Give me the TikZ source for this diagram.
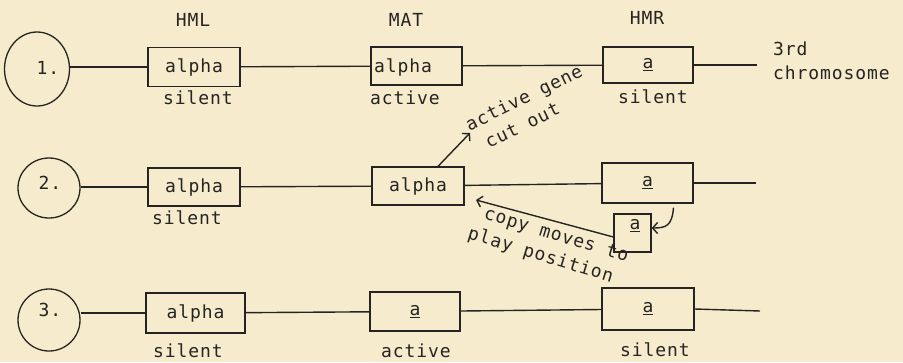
\documentclass[tikz,border=0pt]{standalone}
\usepackage{fontspec}
\setmonofont[LetterSpace=5]{DejaVu Sans Mono}
\usetikzlibrary{arrows.meta,shapes.geometric}
\definecolor{paper}{HTML}{F6ECCD}
\definecolor{ink}{HTML}{262422}
\begin{document}
\begin{tikzpicture}[x=1pt,y=-1pt,
  every node/.style={text=ink, font=\ttfamily\fontsize{18}{24}\selectfont},
  gene/.style={draw=ink, line width=1.3pt, rectangle, inner sep=0pt,
    minimum width=92pt, minimum height=39pt},
  ring/.style={draw=ink, line width=1.3pt, ellipse, inner sep=0pt,
    minimum width=62pt, minimum height=60pt},
  txt/.style={inner sep=0pt},
  note/.style={inner sep=0pt, align=left},
  wire/.style={draw=ink, line width=1.4pt},
  barb/.style={wire, -{Straight Barb[length=5pt,width=11pt]}}
]
\fill[paper] (0,0) rectangle (903,362);
\useasboundingbox (0,0) rectangle (903,362);

% column headings
\node[txt] (hmlh) at (193,20) {HML};
\node[txt] (math) at (406,20) {MAT};
\node[txt] (hmrh) at (647,18) {HMR};

% ---- stage 1 ----
\node[ring, minimum width=65pt, minimum height=74pt] (c1) at (37,69) {};
\node[txt] (n1) at (48,68) {1.};
\node[gene] (hml1) at (194,67) {alpha};
\node[gene, minimum width=91pt, minimum height=38pt] (mat1) at (416.5,66) {};
\node[txt] (mat1t) at (403,67) {alpha};
\node[gene, minimum width=90pt, minimum height=36pt] (hmr1) at (648,65) {\underline{a}};
\node[txt] (s1) at (198,98) {silent};
\node[txt] (a1) at (405,98) {active};
\node[txt] (s1r) at (653,97) {silent};
\node[txt, anchor=base west] (chr3) at (773,55) {3rd};
\node[txt, anchor=base west] (chrn) at (773,79) {chromosome};
\coordinate (t1) at (757,65);
\draw[wire] (c1.east |- hml1.west) -- (hml1.west);
\draw[wire] (hml1) -- (mat1);
\draw[wire] (mat1) -- (hmr1);
\draw[wire] (hmr1.east) -- (t1);

% ---- stage 2 ----
\node[ring] (c2) at (49,188) {};
\node[txt] (n2) at (50,183) {2.};
\node[gene, minimum height=38pt] (hml2) at (194,187) {alpha};
\node[txt] (s2) at (187,218) {silent};
\node[gene, minimum height=38pt] (mat2) at (418,186) {alpha};
\node[gene, minimum width=91pt, minimum height=40pt] (hmr2) at (647.5,183) {\underline{a}};
\node[gene, minimum width=37pt, minimum height=38pt] (cpy) at (632.5,233) {};
\node[txt] (cpyt) at (635,226) {\underline{a}};
\coordinate (t2) at (756,183);
\draw[wire] (c2.east |- hml2.west) -- (hml2.west);
\draw[wire] (hml2) -- (mat2);
\draw[wire] (mat2) -- (hmr2);
\draw[wire] (hmr2.east) -- (t2);

% excision of the active copy
\coordinate (cuttip) at (470,133);
\draw[barb] ([xshift=20pt]mat2.north) -- (cuttip);
\node[note, rotate=26] (cut) at (529,108) {active gene\\\hspace*{10pt}cut out};

% copy of HMR moving into MAT
\draw[barb] ([xshift=26pt,yshift=-4pt]hmr2.south)
  .. controls (672,226) and (666,228) .. ([yshift=5pt]cpy.east);
\coordinate (copytip) at (476,200);
\draw[barb] ([yshift=-4pt]cpy.west) -- (copytip);
\node[note, rotate=-17] (copy) at (548,246) {\hspace*{9.5pt}copy moves to\\play position};

% ---- stage 3 ----
\node[ring, minimum height=62pt] (c3) at (49,320) {};
\node[txt] (n3) at (50,310) {3.};
\node[gene, minimum width=99pt, minimum height=40pt] (hml3) at (195.5,313) {alpha};
\node[txt] (s3) at (188,351) {silent};
\node[gene, minimum width=90pt] (mat3) at (415,311.5) {\underline{a}};
\node[txt] (a3) at (416,351) {active};
\node[gene, minimum height=42pt] (hmr3) at (648,309) {\underline{a}};
\node[txt] (s3r) at (655,350) {silent};
\coordinate (t3) at (760,311);
\draw[wire] (c3.east |- hml3.west) -- (hml3.west);
\draw[wire] (hml3) -- (mat3);
\draw[wire] (mat3) -- (hmr3);
\draw[wire] (hmr3.east) -- (t3);
\end{tikzpicture}
\end{document}
